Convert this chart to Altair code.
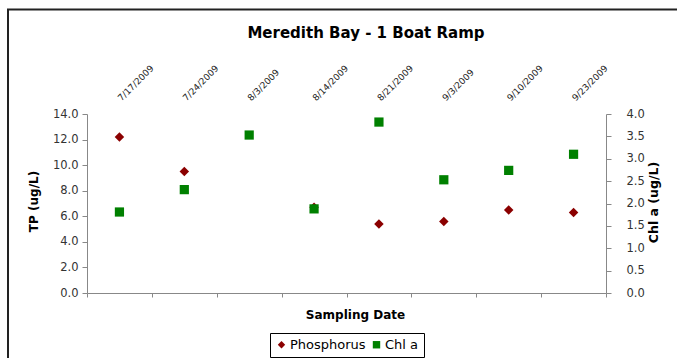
import altair as alt
import pandas as pd

dates = ["7/17/2009", "7/24/2009", "8/3/2009", "8/14/2009", "8/21/2009", "9/3/2009", "9/10/2009", "9/23/2009"]
phosphorus = [12.2, 9.5, None, 6.7, 5.4, 5.6, 6.5, 6.3]
chla = [1.81, 2.31, 3.53, 1.88, 3.82, 2.53, 2.74, 3.10]

df = pd.DataFrame({"date": dates, "tp": phosphorus, "chl": chla})
one = pd.DataFrame({"k": [0]})

FONT = "DejaVu Sans"
W, H = 519, 179
LEFT, TOP = 87, 114
TOTAL_W, TOTAL_H = 677, 358

xscale = alt.Scale(domain=dates, paddingInner=0, paddingOuter=0)
color_scale = alt.Scale(domain=["Phosphorus", "Chl a"], range=["#8B0000", "#008000"])
shape_scale = alt.Scale(domain=["Phosphorus", "Chl a"], range=["diamond", "square"])

legend = alt.Legend(
    title=None, orient="none", direction="horizontal",
    legendX=183, legendY=219, strokeColor="#000", padding=5,
    labelFont=FONT, labelFontSize=13, labelColor="#000",
    symbolSize=55, symbolStrokeWidth=0, columnPadding=4, labelOffset=2,
)

bottom_axis = alt.Axis(
    orient="bottom", labels=False, tickBand="extent", tickSize=4,
    domainColor="#888", tickColor="#888", title="Sampling Date",
    titleFont=FONT, titleFontSize=12, titleFontWeight="bold", titleColor="#000",
    titleX=268, titleY=21, titleBaseline="middle", titleAlign="center",
)
top_axis = alt.Axis(
    orient="top", domain=False, ticks=False, tickSize=0, labelAngle=315,
    labelAlign="left", labelBaseline="middle", labelPadding=15,
    labelFont=FONT, labelFontSize=9, labelColor="#222", title=None,
)

tp = alt.Chart(df).transform_calculate(series="'Phosphorus'").mark_point(
    filled=True, size=90, opacity=1).encode(
    x=alt.X("date:N", scale=xscale, sort=dates, axis=bottom_axis),
    y=alt.Y("tp:Q", scale=alt.Scale(domain=[0, 14], nice=False),
            axis=alt.Axis(orient="left", values=[0, 2, 4, 6, 8, 10, 12, 14], format=".1f",
                          grid=False, tickSize=5, domainColor="#888", tickColor="#888",
                          labelFont=FONT, labelFontSize=11.5, labelColor="#333", labelPadding=4,
                          title="TP (ug/L)", titleFont=FONT, titleFontSize=12,
                          titleFontWeight="bold", titleColor="#000", titleAngle=270,
                          titleX=-54, titleY=87, titleBaseline="middle", titleAlign="center")),
    color=alt.Color("series:N", scale=color_scale, legend=legend),
    shape=alt.Shape("series:N", scale=shape_scale, legend=legend),
)

chl = alt.Chart(df).transform_calculate(series="'Chl a'").mark_point(
    filled=True, size=85, opacity=1).encode(
    x=alt.X("date:N", scale=xscale, sort=dates, axis=top_axis),
    y=alt.Y("chl:Q", scale=alt.Scale(domain=[0, 4], nice=False),
            axis=alt.Axis(orient="right", values=[0, 0.5, 1, 1.5, 2, 2.5, 3, 3.5, 4], format=".1f",
                          grid=False, tickSize=5, domainColor="#888", tickColor="#888",
                          labelFont=FONT, labelFontSize=11.5, labelColor="#333", labelPadding=15,
                          title="Chl a (ug/L)", titleFont=FONT, titleFontSize=12.5,
                          titleFontWeight="bold", titleColor="#000", titleAngle=270,
                          titleX=47, titleY=88, titleBaseline="middle", titleAlign="center")),
    color=alt.Color("series:N", scale=color_scale, legend=legend),
    shape=alt.Shape("series:N", scale=shape_scale, legend=legend),
)

title = alt.Chart(one).mark_text(
    text="Meredith Bay - 1 Boat Ramp", font=FONT, fontSize=15, fontWeight="bold",
    color="#000", align="center", baseline="middle",
).encode(x=alt.value(366 - LEFT), y=alt.value(33 - TOP))

frame = alt.Chart(one).mark_rect(fill=None, stroke="#222", strokeWidth=2).encode(
    x=alt.value(8 - LEFT), x2=alt.value(TOTAL_W + 40 - LEFT),
    y=alt.value(9.5 - TOP), y2=alt.value(TOTAL_H + 40 - TOP))

chart = alt.layer(tp, chl, title, frame).resolve_scale(
    y="independent"
).resolve_axis(x="independent", y="independent").properties(
    width=W, height=H,
    autosize=alt.AutoSizeParams(type="none"),
    padding={"left": LEFT, "top": TOP, "right": TOTAL_W - LEFT - W, "bottom": TOTAL_H - TOP - H},
    background="white",
).configure_view(stroke=None)

chart.save("out.html", embed_options={"renderer": "svg", "actions": False})
